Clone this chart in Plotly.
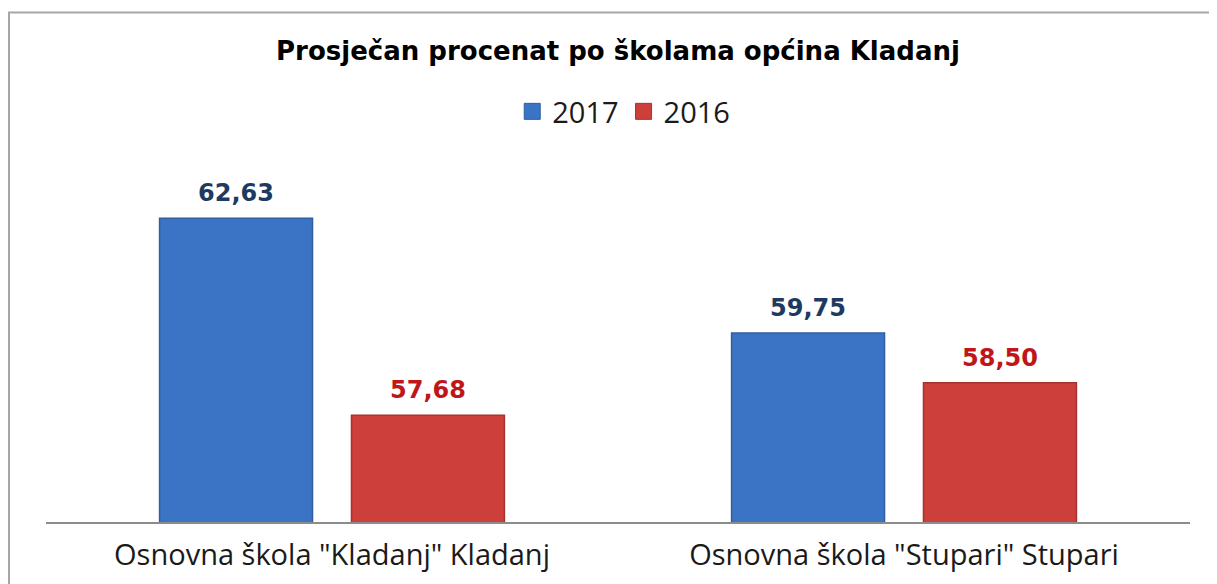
import plotly.graph_objects as go

categories = ['Osnovna škola "Kladanj" Kladanj', 'Osnovna škola "Stupari" Stupari']
series_names = ["2017", "2016"]
values_2017 = [62.63, 59.75]
values_2016 = [57.68, 58.50]

def fmt(v):
    return f"{v:.2f}".replace(".", ",")

# the page body adds an 8px margin, so the figure is sized to fit the window
W, H = 1209, 576
L, R, T, B = 38, 27, 116, 62
pw, ph = W - L - R, H - T - B

BARGAP, GROUPGAP = 0.329, 0.203
cat_px = pw / len(categories)
slot_px = cat_px * (1 - BARGAP) / 2          # width of one bar slot, px

blue, red = "#3b74c4", "#cd3f3a"
blue_txt, red_txt = "#1f3a60", "#c0161a"

fig = go.Figure()
fig.add_trace(go.Bar(
    x=categories, y=values_2017, name=series_names[0], showlegend=False,
    marker=dict(color=blue, line=dict(color="#2f5f9f", width=1.5)),
))
fig.add_trace(go.Bar(
    x=categories, y=values_2016, name=series_names[1], showlegend=False,
    marker=dict(color=red, line=dict(color="#a8322e", width=1.5)),
))
# legend entries with larger square symbols
for name, col, edge in [(series_names[0], blue, "#2f5f9f"), (series_names[1], red, "#a8322e")]:
    fig.add_trace(go.Scatter(
        x=[None], y=[None], mode="markers", name=name,
        marker=dict(symbol="square", size=16, color=col, line=dict(color=edge, width=1)),
    ))

# value labels
for vals, sign, col in [(values_2017, -1, blue_txt), (values_2016, 1, red_txt)]:
    for c, v in zip(categories, vals):
        fig.add_annotation(
            x=c, y=v, xref="x", yref="y", text=fmt(v), showarrow=False,
            xshift=sign * slot_px / 2, yshift=9, yanchor="bottom",
            font=dict(family="DejaVu Sans", size=24, color=col, weight="bold"),
        )

# outer border (partly outside the page, as in the reference)
px2x = lambda px: (px - L) / pw
py2y = lambda py: (H - B - py) / ph
fig.add_shape(type="rect", xref="paper", yref="paper",
              x0=px2x(1), x1=px2x(1400), y0=py2y(800), y1=py2y(4.5),
              line=dict(color="#a6a6a6", width=2), fillcolor="rgba(0,0,0,0)", layer="below")

fig.update_layout(
    width=W, height=H,
    margin=dict(l=L, r=R, t=T, b=B),
    paper_bgcolor="white", plot_bgcolor="white",
    barmode="group", bargap=BARGAP, bargroupgap=GROUPGAP,
    title=dict(text="<b>Prosječan procenat po školama općina Kladanj</b>",
               x=0.5, xref="paper", xanchor="center",
               y=1 - 43 / H, yref="container", yanchor="middle",
               font=dict(family="DejaVu Sans", size=26, color="#000000")),
    legend=dict(orientation="h", x=0.505, xanchor="center", xref="paper",
                y=py2y(103.5), yanchor="middle",
                font=dict(family="Open Sans", size=29, color="#1a1a1a"),
                itemwidth=30, traceorder="normal", itemclick=False),
    xaxis=dict(showline=True, linecolor="#8c8c8c", linewidth=2, ticks="",
               tickfont=dict(family="Open Sans", size=29, color="#1a1a1a"),
               ticklabelstandoff=6, showgrid=False, fixedrange=True),
    yaxis=dict(range=[55, 65], visible=False, showgrid=False, zeroline=False,
               fixedrange=True),
)

fig.write_html("out.html")
